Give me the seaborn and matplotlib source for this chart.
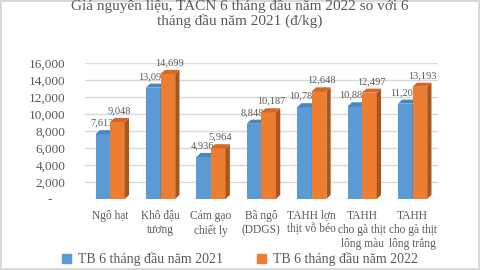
import matplotlib
matplotlib.use("Agg")
import matplotlib.pyplot as plt
import seaborn as sns
import pandas as pd
from matplotlib.patches import Patch

categories = ["Ngô hạt", "Khô đậu\ntương", "Cám gạo\nchiết ly", "Bã ngô\n(DDGS)",
              "TAHH lợn\nthịt vỗ béo", "TAHH\ncho gà thịt\nlông màu", "TAHH\ncho gà thịt\nlông trắng"]
series_names = ["TB 6 tháng đầu năm 2021", "TB 6 tháng đầu năm 2022"]
values_2021 = [7613, 13091, 4936, 8848, 10786, 10885, 11207]
values_2022 = [9048, 14699, 5964, 10187, 12648, 12497, 13193]
yticks = [0, 2000, 4000, 6000, 8000, 10000, 12000, 14000, 16000]

colors = ["#5B9BD5", "#ED7D31"]
side_colors = ["#41719C", "#A9561E"]
top_colors = ["#4A86BF", "#D06A25"]
gray = "#595959"

df = pd.DataFrame({
    "cat": categories * 2,
    "val": values_2021 + values_2022,
    "series": [series_names[0]] * 7 + [series_names[1]] * 7,
})

sns.set_theme(style="white")
plt.rcParams["font.family"] = ["Liberation Serif", "DejaVu Serif"]

fig = plt.figure(figsize=(4.8, 2.7), dpi=100)
fig.patch.set_edgecolor("#d9d9d9")
fig.patch.set_linewidth(1.5)
ax = fig.add_axes([0.177, 0.263, 0.735, 0.504])

sns.barplot(data=df, x="cat", y="val", hue="series", palette=colors,
            width=0.58, gap=0, saturation=1, legend=False, ax=ax, zorder=2,
            edgecolor="none")

ax.set_ylim(0, 16000)
ax.set_xlim(-0.5, 6.5)
ax.set_yticks(yticks)
ax.set_yticklabels(["-    "] + [f"{v:,}" for v in yticks[1:]], color=gray, fontsize=9.5)
ax.tick_params(axis="y", pad=14, length=0)
ax.tick_params(axis="x", pad=8, length=0, labelsize=8.3, labelcolor=gray)
for lab in ax.get_xticklabels():
    lab.set_linespacing(1.2)
ax.set_xlabel("")
ax.set_ylabel("")
ax.grid(axis="y", color="#d9d9d9", lw=1, zorder=0)
for s in ax.spines.values():
    s.set_visible(False)

# pseudo-3D depth derived from the bar patches
dx = 0.085
dy = 480
patches = ax.patches[:14]
for i, p in enumerate(patches):
    k = 0 if i < 7 else 1
    p.set_zorder(2 + 2 * k)
    x0, w, h = p.get_x(), p.get_width(), p.get_height()
    ax.fill([x0 + w, x0 + w + dx, x0 + w + dx, x0 + w],
            [0, dy, h + dy, h], color=side_colors[k], zorder=2 + 2 * k, lw=0)
    ax.fill([x0, x0 + dx, x0 + w + dx, x0 + w],
            [h, h + dy, h + dy, h], color=top_colors[k], zorder=2 + 2 * k, lw=0)
    ax.annotate(f"{h:,.0f}", (x0 + w / 2 + dx / 2, h + dy),
                xytext=(-2.5 if k == 0 else 0, 2),
                textcoords="offset points", ha="center", va="bottom",
                fontsize=7.5, color=gray, zorder=3 + 2 * k)

fig.text(0.5, 0.95, "Giá nguyên liệu, TACN 6 tháng đầu năm 2022 so với 6\ntháng đầu năm 2021 (đ/kg)",
         ha="center", va="center", fontsize=11, color=gray, linespacing=1.15)

handles = [Patch(color=colors[0]), Patch(color=colors[1])]
fig.legend(handles, series_names, loc="center", bbox_to_anchor=(0.5, 0.04),
           ncol=2, frameon=False, fontsize=10, labelcolor=gray,
           handlelength=0.6, handleheight=0.6, columnspacing=2.5, handletextpad=0.5)

fig.savefig("out.png", dpi=100)
